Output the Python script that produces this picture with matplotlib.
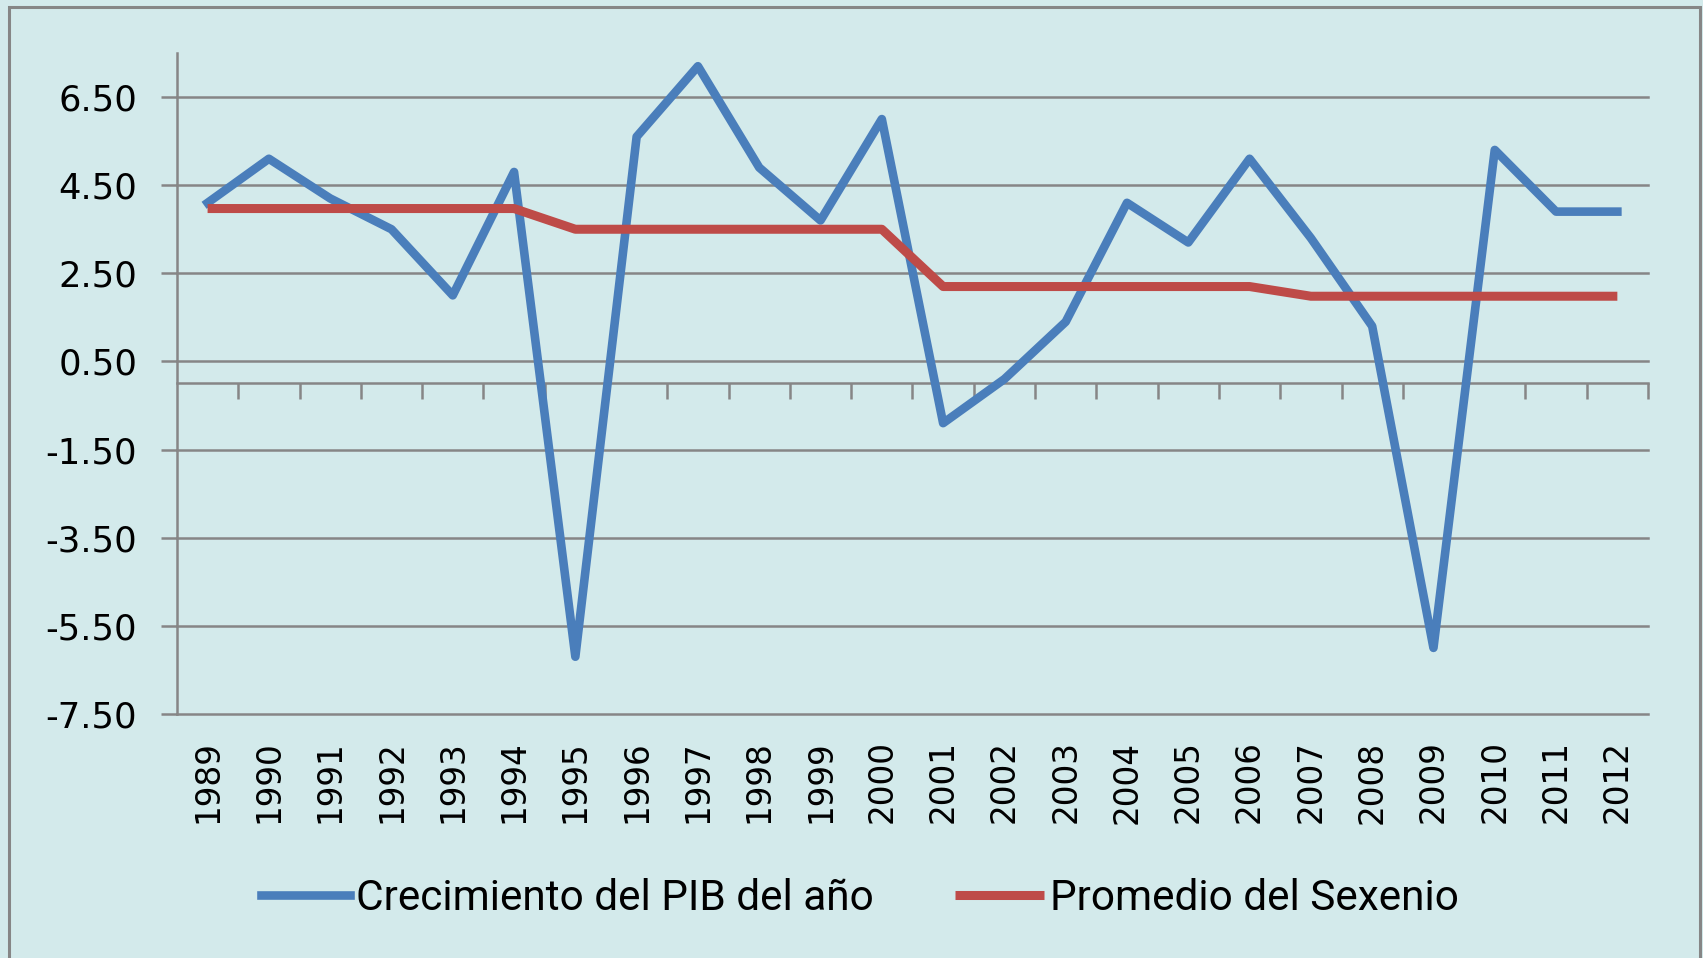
import numpy as np
import matplotlib
matplotlib.use("Agg")
import matplotlib.pyplot as plt
from matplotlib.patches import Rectangle

# Data
years = [str(y) for y in range(1989, 2013)]
pib_growth = [4.1, 5.1, 4.2, 3.5, 2.0, 4.8, -6.2, 5.6, 7.2, 4.9, 3.7, 6.0,
              -0.9, 0.1, 1.4, 4.1, 3.2, 5.1, 3.3, 1.3, -6.0, 5.3, 3.9, 3.9]
sexenio_avg = [3.97, 3.97, 3.97, 3.97, 3.97, 3.97, 3.5, 3.5, 3.5, 3.5, 3.5, 3.5,
               2.2, 2.2, 2.2, 2.2, 2.2, 2.2, 1.98, 1.98, 1.98, 1.98, 1.98, 1.98]
y_ticks = [-7.5, -5.5, -3.5, -1.5, 0.5, 2.5, 4.5, 6.5]

bg = "#d3eaeb"
grey = "#868686"
blue = "#4a7ebb"
red = "#be4b48"

fig = plt.figure(figsize=(17.03, 9.58), dpi=100, facecolor=bg)
ax = fig.add_axes([0.1039, 0.2547, 0.8638, 0.69])
ax.set_facecolor(bg)

x = np.arange(len(years))
ax.plot(x, pib_growth, color=blue, lw=6.2, label="Crecimiento del PIB del año",
        solid_joinstyle="round", zorder=3)
ax.plot(x, sexenio_avg, color=red, lw=6.5, label="Promedio del Sexenio",
        solid_capstyle="butt", zorder=4)

ax.set_xlim(-0.5, len(years) - 0.5)
ax.set_ylim(-7.5, 7.5)
ax.set_yticks(y_ticks)
ax.set_yticklabels([f"{v:.2f}" for v in y_ticks])
ax.yaxis.grid(True, color=grey, lw=1.8)
for gl in ax.yaxis.get_gridlines():
    gl.set_clip_on(False)
ax.set_axisbelow(True)

for s in ["top", "right"]:
    ax.spines[s].set_visible(False)
ax.spines["left"].set_color(grey)
ax.spines["left"].set_linewidth(1.8)
ax.spines["bottom"].set_position(("data", 0))
ax.spines["bottom"].set_color(grey)
ax.spines["bottom"].set_linewidth(1.8)

# category boundary ticks on the zero axis
ax.set_xticks(np.arange(0.5, len(years), 1))
ax.set_xticklabels([])
ax.tick_params(axis="x", direction="out", length=11.5, width=1.8, color=grey)
ax.tick_params(axis="y", direction="out", length=11.5, width=1.8, color=grey,
               pad=17, labelsize=25.5, labelcolor="black")

# year labels along the bottom
sec = ax.secondary_xaxis(0)
sec.set_xticks(x)
sec.set_xticklabels(years, rotation=90, fontsize=23.5, va="top")
sec.tick_params(length=0, pad=19)
sec.spines["bottom"].set_visible(False)

# outer chart border
fig.patches.append(Rectangle((9 / 1703, -0.1), 1691 / 1703, 1.0927, transform=fig.transFigure,
                             fill=False, edgecolor=grey, lw=2.2, zorder=0))

leg = fig.legend(loc="center", bbox_to_anchor=(0.505, 0.0625), ncol=2, frameon=False,
                 handlelength=2.1, handletextpad=0.15, columnspacing=1.9,
                 prop={"family": ["Roboto", "DejaVu Sans"], "size": 30.5})

fig.savefig("out.png", dpi=100, facecolor=bg)
